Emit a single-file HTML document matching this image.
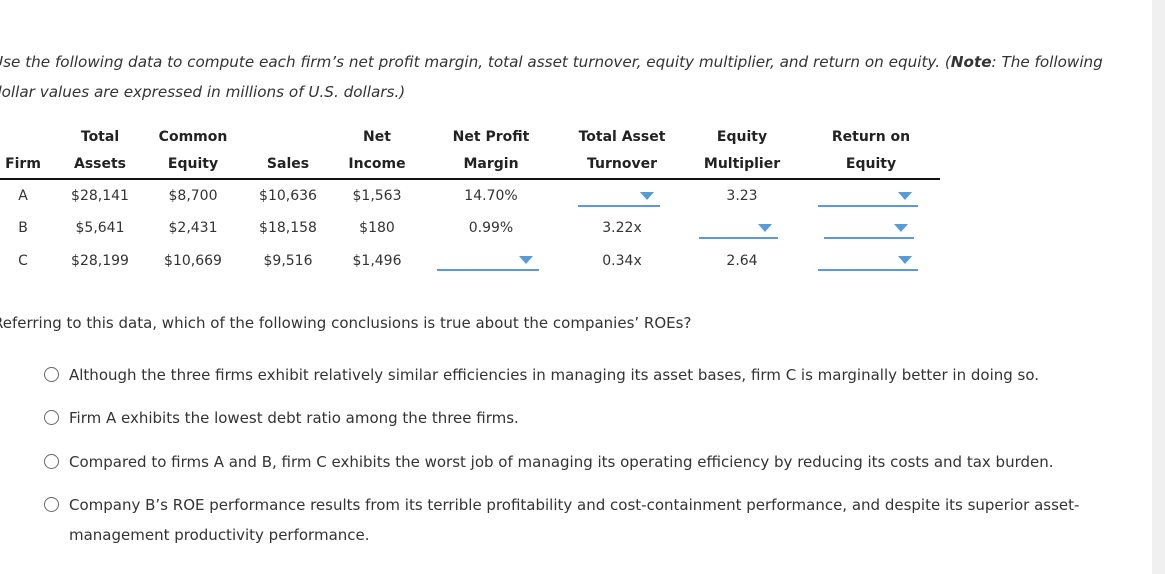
<!DOCTYPE html>
<html><head><meta charset="utf-8"><style>
body{margin:0;width:1165px;height:574px;background:#fff;position:relative;overflow:hidden;font-family:"DejaVu Sans","Liberation Sans",sans-serif;color:#333;font-size:14px}
.t{position:absolute;white-space:nowrap;line-height:1}
.c{transform:translateX(-50%)}
.h{font-weight:bold;color:#222}
.q{font-size:15px}
.dd{position:absolute;height:2px;background:#5b9bd5}
.dd::after{content:"";position:absolute;right:6px;top:-13px;border-left:7px solid transparent;border-right:7px solid transparent;border-top:8px solid #5b9bd5}
.r{position:absolute;width:15px;height:15px;border:1.5px solid #666;border-radius:50%;box-sizing:border-box}
</style></head><body>
<div style="position:absolute;left:1152px;top:0;width:13px;height:574px;background:#f0f0f0"></div>
<div class="t" style="left:-8px;top:55px;font-style:italic;font-size:15.2px">Use the following data to compute each firm’s net profit margin, total asset turnover, equity multiplier, and return on equity. (<b>Note</b>: The following</div>
<div class="t" style="left:-8px;top:85px;font-style:italic;font-size:15.2px">dollar values are expressed in millions of U.S. dollars.)</div>

<div>
<div class="t h c" style="left:100px;top:130px">Total</div>
<div class="t h c" style="left:193px;top:130px">Common</div>
<div class="t h c" style="left:377px;top:130px">Net</div>
<div class="t h c" style="left:491px;top:130px">Net Profit</div>
<div class="t h c" style="left:622px;top:130px">Total Asset</div>
<div class="t h c" style="left:742px;top:130px">Equity</div>
<div class="t h c" style="left:871px;top:130px">Return on</div>
<div class="t h c" style="left:23px;top:157px">Firm</div>
<div class="t h c" style="left:100px;top:157px">Assets</div>
<div class="t h c" style="left:193px;top:157px">Equity</div>
<div class="t h c" style="left:288px;top:157px">Sales</div>
<div class="t h c" style="left:377px;top:157px">Income</div>
<div class="t h c" style="left:491px;top:157px">Margin</div>
<div class="t h c" style="left:622px;top:157px">Turnover</div>
<div class="t h c" style="left:742px;top:157px">Multiplier</div>
<div class="t h c" style="left:871px;top:157px">Equity</div>
<div style="position:absolute;left:0;top:178px;width:940px;height:2px;background:#111"></div>

<div class="t c" style="left:23px;top:189px">A</div>
<div class="t c" style="left:100px;top:189px">$28,141</div>
<div class="t c" style="left:193px;top:189px">$8,700</div>
<div class="t c" style="left:288px;top:189px">$10,636</div>
<div class="t c" style="left:377px;top:189px">$1,563</div>
<div class="t c" style="left:491px;top:189px">14.70%</div>
<div class="t c" style="left:742px;top:189px">3.23</div>

<div class="t c" style="left:23px;top:221px">B</div>
<div class="t c" style="left:100px;top:221px">$5,641</div>
<div class="t c" style="left:193px;top:221px">$2,431</div>
<div class="t c" style="left:288px;top:221px">$18,158</div>
<div class="t c" style="left:377px;top:221px">$180</div>
<div class="t c" style="left:491px;top:221px">0.99%</div>
<div class="t c" style="left:622px;top:221px">3.22x</div>

<div class="t c" style="left:23px;top:254px">C</div>
<div class="t c" style="left:100px;top:254px">$28,199</div>
<div class="t c" style="left:193px;top:254px">$10,669</div>
<div class="t c" style="left:288px;top:254px">$9,516</div>
<div class="t c" style="left:377px;top:254px">$1,496</div>
<div class="t c" style="left:622px;top:254px">0.34x</div>
<div class="t c" style="left:742px;top:254px">2.64</div>
</div>

<div class="dd" style="left:578px;top:205px;width:82px"></div>
<div class="dd" style="left:818px;top:205px;width:100px"></div>
<div class="dd" style="left:699px;top:237px;width:79px"></div>
<div class="dd" style="left:824px;top:237px;width:90px"></div>
<div class="dd" style="left:437px;top:269px;width:102px"></div>
<div class="dd" style="left:818px;top:269px;width:100px"></div>

<div class="t q" style="left:-7px;top:316px">Referring to this data, which of the following conclusions is true about the companies’ ROEs?</div>

<div class="r" style="left:44px;top:367px"></div>
<div class="t q" style="left:69px;top:368px">Although the three firms exhibit relatively similar efficiencies in managing its asset bases, firm C is marginally better in doing so.</div>
<div class="r" style="left:44px;top:410px"></div>
<div class="t q" style="left:69px;top:411px">Firm A exhibits the lowest debt ratio among the three firms.</div>
<div class="r" style="left:44px;top:454px"></div>
<div class="t q" style="left:69px;top:455px">Compared to firms A and B, firm C exhibits the worst job of managing its operating efficiency by reducing its costs and tax burden.</div>
<div class="r" style="left:44px;top:497px"></div>
<div class="t q" style="left:69px;top:498px">Company B’s ROE performance results from its terrible profitability and cost-containment performance, and despite its superior asset-</div>
<div class="t q" style="left:69px;top:528px">management productivity performance.</div>
</body></html>
